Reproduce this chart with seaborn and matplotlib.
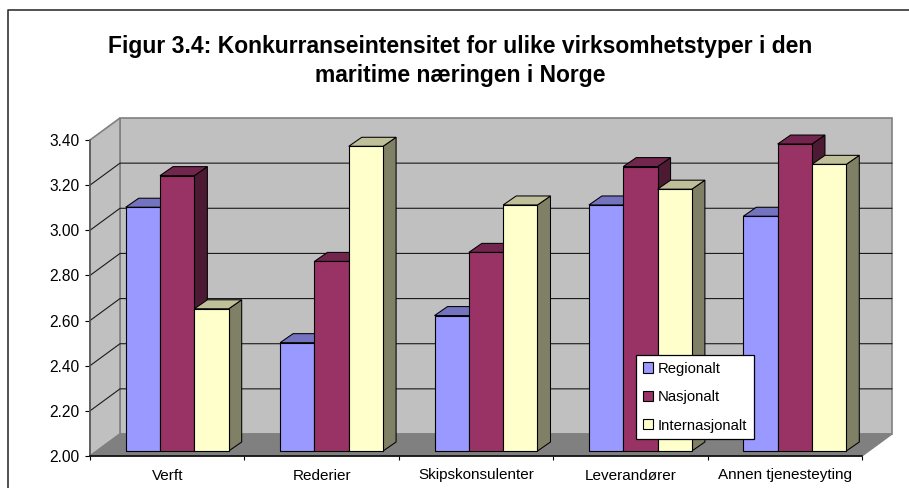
import numpy as np
import pandas as pd
import matplotlib
matplotlib.use('Agg')
import matplotlib.pyplot as plt
from matplotlib.lines import Line2D
from matplotlib.patches import Polygon, Rectangle
from matplotlib.colors import to_rgb
import seaborn as sns

# values
categories = ['Verft', 'Rederier', 'Skipskonsulenter', 'Leverandører', 'Annen tjenesteyting']
regionalt = [3.08, 2.48, 2.60, 3.09, 3.04]
nasjonalt = [3.22, 2.84, 2.88, 3.26, 3.36]
internasjonalt = [2.63, 3.35, 3.09, 3.16, 3.27]
series_names = ['Regionalt', 'Nasjonalt', 'Internasjonalt']
colors = ['#9999FF', '#993366', '#FFFFCC']
y_ticks = [2.0, 2.2, 2.4, 2.6, 2.8, 3.0, 3.2, 3.4]
title = 'Figur 3.4: Konkurranseintensitet for ulike virksomhetstyper i den\nmaritime næringen i Norge'

df = pd.DataFrame({'kategori': categories * 3,
                   'serie': np.repeat(series_names, 5),
                   'verdi': regionalt + nasjonalt + internasjonalt})

sns.set_style('white')
plt.rcParams['font.family'] = ['Liberation Sans', 'DejaVu Sans']
plt.rcParams['text.color'] = 'black'
plt.rcParams['xtick.labelcolor'] = 'black'
plt.rcParams['ytick.labelcolor'] = 'black'

W, H = 909, 488
fig = plt.figure(figsize=(W / 100, H / 100), dpi=100)

# ramme: bare venstre og topp er synlig i bildet
fig.add_artist(Line2D([8 / W, 8 / W, 1], [0, 1 - 10 / H, 1 - 10 / H], transform=fig.transFigure,
                      color='#333333', linewidth=1.2))
fig.text(460 / W, 1 - 61 / H, title, ha='center', va='center', fontsize=16.5,
         fontweight='bold', linespacing=1.33)

# front axis, px positions
left, right, bottom, top = 90, 862, 456, 140
ax = fig.add_axes([left / W, 1 - bottom / H, (right - left) / W, (bottom - top) / H])
ax.set_xlim(-0.5, 4.5)
ax.set_ylim(2.0, 3.4)
ax.patch.set_alpha(0)
px_x = 5 / (right - left)
px_y = 1.4 / (bottom - top)

# vegg, gulv og rutenett
depth_x, depth_y = 30 * px_x, 22 * px_y
x0, x1, y0, y1 = -0.5, 4.5, 2.0, 3.4
wall = '#C0C0C0'
edge = '#808080'
ax.add_patch(Polygon([(x0 + depth_x, y0 + depth_y), (x1 + depth_x, y0 + depth_y),
                      (x1 + depth_x, y1 + depth_y), (x0 + depth_x, y1 + depth_y)],
                     facecolor=wall, edgecolor=edge, lw=1.2, clip_on=False, zorder=1))
ax.add_patch(Polygon([(x0, y0), (x0 + depth_x, y0 + depth_y), (x0 + depth_x, y1 + depth_y), (x0, y1)],
                     facecolor=wall, edgecolor=edge, lw=1.2, clip_on=False, zorder=1))
ax.add_patch(Polygon([(x0, y0), (x1, y0), (x1 + depth_x, y0 + depth_y), (x0 + depth_x, y0 + depth_y)],
                     facecolor='#808080', edgecolor='#808080', lw=1, clip_on=False, zorder=1))
for t in y_ticks[1:-1]:
    ax.plot([x0, x0 + depth_x, x1 + depth_x], [t, t + depth_y, t + depth_y],
            color='#1a1a1a', lw=0.8, clip_on=False, zorder=2)

for s in ['top', 'right']:
    ax.spines[s].set_visible(False)
ax.spines['left'].set_color('#555555')
ax.spines['left'].set_linewidth(1.1)
ax.spines['bottom'].set_color('black')
ax.spines['bottom'].set_linewidth(1.1)
ax.set_yticks(y_ticks)
ax.set_yticklabels([f'{t:.2f}' for t in y_ticks], fontsize=11.2)
ax.set_xticks(range(5))
ax.set_xticklabels(categories, fontsize=11)
ax.set_xticks(np.arange(-0.5, 5), minor=True)
ax.tick_params(axis='x', which='major', length=0, pad=9)
ax.tick_params(axis='x', which='minor', length=3, width=0.8, color='black', bottom=True)
ax.tick_params(axis='y', length=3.5, width=0.8, color='black', left=True, pad=4)

# bars in their own axes, pushed a bit back in the depth
shift_x, shift_y = 10, 5
ax_bars = fig.add_axes([(left + shift_x) / W, 1 - (bottom - shift_y) / H, (right - left) / W, (bottom - top) / H])
sns.barplot(data=df, x='kategori', y='verdi', hue='serie', palette=colors, width=0.667, gap=0,
            saturation=1, edgecolor='black', linewidth=0.8, legend=False, ax=ax_bars)
ax_bars.set_xlim(-0.5, 4.5)
ax_bars.set_ylim(2.0, 3.4)
ax_bars.axis('off')

# sider og topp paa stolpene
bar_dx, bar_dy = 13 * px_x, 9 * px_y
bars = [p for p in ax_bars.patches if p.get_width() > 0]
for i, bar in enumerate(sorted(bars, key=lambda b: b.get_x())):
    xa, w = bar.get_x(), bar.get_width()
    base = y0
    h = bar.get_height() - base
    # stolpene starter ved aksens nedre grense, ikke ved null
    bar.set_y(base)
    bar.set_height(h)
    rgb = np.array(to_rgb(bar.get_facecolor()))
    z = 3 + i
    ax_bars.add_patch(Polygon([(xa + w, base), (xa + w + bar_dx, base + bar_dy),
                               (xa + w + bar_dx, base + h + bar_dy), (xa + w, base + h)],
                              facecolor=rgb * 0.5, edgecolor='black', lw=0.75, clip_on=False, zorder=z))
    ax_bars.add_patch(Polygon([(xa, base + h), (xa + bar_dx, base + h + bar_dy),
                               (xa + w + bar_dx, base + h + bar_dy), (xa + w, base + h)],
                              facecolor=rgb * 0.75, edgecolor='black', lw=0.75, clip_on=False, zorder=z))
    bar.set_zorder(z + 0.5)
    bar.set_clip_on(False)

# legend
handles = [Rectangle((0, 0), 1, 1, facecolor=c, edgecolor='black', lw=0.8) for c in colors]
leg = ax_bars.legend(handles, series_names, loc='upper left',
                     bbox_to_anchor=(636 / W, 1 - 355 / H), bbox_transform=fig.transFigure,
                     fontsize=10.7, frameon=True, fancybox=False, framealpha=1, edgecolor='black',
                     handlelength=0.67, handleheight=0.67, handletextpad=0.35, labelspacing=0.97,
                     borderpad=0.45, borderaxespad=0)
leg.set_zorder(50)
leg.get_frame().set_linewidth(0.9)

fig.savefig('out.png', dpi=100)
